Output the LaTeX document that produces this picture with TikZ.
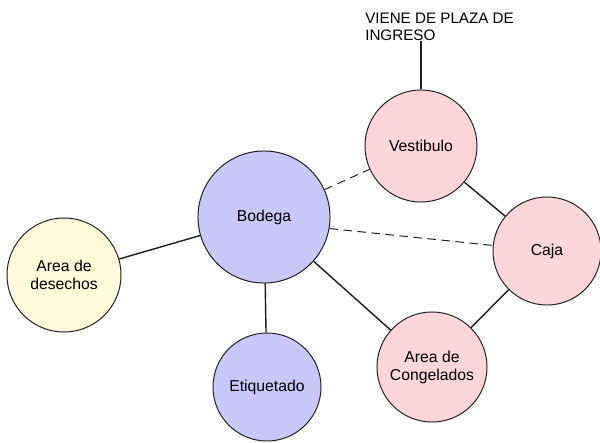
\documentclass[tikz,border=0pt]{standalone}
\usepackage{fontspec}
\setmainfont{Liberation Sans}
\usetikzlibrary{positioning,calc}
\definecolor{LilaFill}{RGB}{200,200,246}
\definecolor{RosaFill}{RGB}{250,214,216}
\definecolor{CremaFill}{RGB}{254,250,220}
\definecolor{Trazo}{RGB}{30,30,30}
\tikzset{
  zona/.style={circle,draw=Trazo,line width=0.7pt,align=center,
               font=\fontsize{11.2}{12.8}\selectfont,inner sep=0pt},
  lzona/.style={zona,fill=LilaFill},
  rzona/.style={zona,fill=RosaFill},
  czona/.style={zona,fill=CremaFill},
  lnk/.style={Trazo,line width=1pt},
  dlnk/.style={Trazo,line width=0.7pt,dash pattern=on 6pt off 4pt},
}
\begin{document}
\begin{tikzpicture}[x=0.025cm,y=-0.025cm]
\useasboundingbox (0,0) rectangle (600,442);
\node[lzona, minimum size=3.3cm] (bod) at (264,217) {Bodega};
\node[czona, minimum size=2.85cm] (des) at (64,275) {Area de\\desechos};
\node[lzona, minimum size=2.7cm] (eti) at (267,387) {Etiquetado};
\node[rzona, minimum size=2.8cm] (vest) at (421,146) {Vestibulo};
\node[rzona, minimum size=2.7cm] (caja) at (547,251) {Caja};
\node[rzona, minimum size=2.75cm] (cong) at (432,367) {Area de\\Congelados};
\node[anchor=north west, align=left, inner sep=0pt,
      font=\fontsize{10.8}{12}\selectfont] (txt) at (365,13) {VIENE DE PLAZA DE\\INGRESO};

\draw[lnk] (vest) -- (vest |- txt.south);
\draw[dlnk] (bod) -- (vest);
\draw[dlnk] (bod.-10) -- (caja);
\draw[lnk] (vest) -- (caja);
\draw[lnk] (bod) -- (cong);
\draw[lnk] (caja) -- (cong);
\draw[lnk] (bod) -- (des);
\draw[lnk] (bod) -- (eti);
\end{tikzpicture}
\end{document}
